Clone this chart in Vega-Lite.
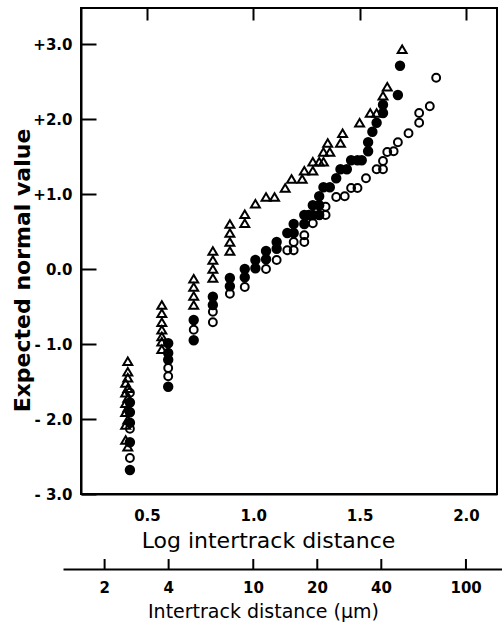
{
  "$schema": "https://vega.github.io/schema/vega-lite/v6.json",
  "width": 416,
  "height": 486,
  "autosize": {"type": "none"},
  "padding": {"left": 81, "top": 8, "right": 5, "bottom": 128},
  "background": "white",
  "config": {
    "view": {"stroke": "black", "strokeWidth": 2},
    "axis": {"grid": false, "zindex": 1, "domainColor": "black", "domainWidth": 2, "labelColor": "black", "titleColor": "black"}
  },
  "datasets": {
    "pts": [
      {"s": "tri", "x": 0.41, "y": -1.23}, {"s": "tri", "x": 0.41, "y": -1.37}, {"s": "tri", "x": 0.41, "y": -1.45}, {"s": "tri", "x": 0.40, "y": -1.52},
      {"s": "tri", "x": 0.41, "y": -1.59}, {"s": "tri", "x": 0.40, "y": -1.65}, {"s": "tri", "x": 0.41, "y": -1.72}, {"s": "tri", "x": 0.40, "y": -1.79},
      {"s": "tri", "x": 0.41, "y": -1.85}, {"s": "tri", "x": 0.40, "y": -1.91}, {"s": "tri", "x": 0.41, "y": -2.01}, {"s": "tri", "x": 0.40, "y": -2.08},
      {"s": "tri", "x": 0.40, "y": -2.28}, {"s": "tri", "x": 0.41, "y": -2.37},
      {"s": "tri", "x": 0.57, "y": -0.48}, {"s": "tri", "x": 0.57, "y": -0.59}, {"s": "tri", "x": 0.57, "y": -0.71}, {"s": "tri", "x": 0.57, "y": -0.81},
      {"s": "tri", "x": 0.57, "y": -0.90}, {"s": "tri", "x": 0.57, "y": -0.97}, {"s": "tri", "x": 0.57, "y": -1.07},
      {"s": "tri", "x": 0.72, "y": -0.13}, {"s": "tri", "x": 0.72, "y": -0.24}, {"s": "tri", "x": 0.72, "y": -0.36}, {"s": "tri", "x": 0.72, "y": -0.48},
      {"s": "tri", "x": 0.81, "y": 0.24}, {"s": "tri", "x": 0.81, "y": 0.12}, {"s": "tri", "x": 0.81, "y": 0.0}, {"s": "tri", "x": 0.81, "y": -0.12},
      {"s": "tri", "x": 0.89, "y": 0.60}, {"s": "tri", "x": 0.89, "y": 0.48}, {"s": "tri", "x": 0.89, "y": 0.36}, {"s": "tri", "x": 0.89, "y": 0.24},
      {"s": "tri", "x": 0.96, "y": 0.73}, {"s": "tri", "x": 0.96, "y": 0.61},
      {"s": "tri", "x": 1.01, "y": 0.87}, {"s": "tri", "x": 1.06, "y": 0.96}, {"s": "tri", "x": 1.10, "y": 0.96},
      {"s": "tri", "x": 1.15, "y": 1.08}, {"s": "tri", "x": 1.18, "y": 1.20}, {"s": "tri", "x": 1.23, "y": 1.20}, {"s": "tri", "x": 1.24, "y": 1.31},
      {"s": "tri", "x": 1.28, "y": 1.31}, {"s": "tri", "x": 1.28, "y": 1.43}, {"s": "tri", "x": 1.31, "y": 1.43}, {"s": "tri", "x": 1.33, "y": 1.43},
      {"s": "tri", "x": 1.33, "y": 1.56}, {"s": "tri", "x": 1.36, "y": 1.56}, {"s": "tri", "x": 1.35, "y": 1.68}, {"s": "tri", "x": 1.41, "y": 1.68},
      {"s": "tri", "x": 1.42, "y": 1.81}, {"s": "tri", "x": 1.50, "y": 1.95}, {"s": "tri", "x": 1.55, "y": 2.08}, {"s": "tri", "x": 1.58, "y": 2.08},
      {"s": "tri", "x": 1.61, "y": 2.31}, {"s": "tri", "x": 1.63, "y": 2.43}, {"s": "tri", "x": 1.70, "y": 2.93},
      {"s": "dot", "x": 0.42, "y": -1.78}, {"s": "dot", "x": 0.42, "y": -1.91}, {"s": "dot", "x": 0.42, "y": -2.05}, {"s": "dot", "x": 0.42, "y": -2.31}, {"s": "dot", "x": 0.42, "y": -2.68},
      {"s": "dot", "x": 0.60, "y": -0.99}, {"s": "dot", "x": 0.60, "y": -1.12}, {"s": "dot", "x": 0.60, "y": -1.21}, {"s": "dot", "x": 0.60, "y": -1.57},
      {"s": "dot", "x": 0.72, "y": -0.68}, {"s": "dot", "x": 0.72, "y": -0.95},
      {"s": "dot", "x": 0.81, "y": -0.37}, {"s": "dot", "x": 0.81, "y": -0.48},
      {"s": "dot", "x": 0.89, "y": -0.12}, {"s": "dot", "x": 0.89, "y": -0.23},
      {"s": "dot", "x": 0.96, "y": 0.0}, {"s": "dot", "x": 0.96, "y": -0.11},
      {"s": "dot", "x": 1.01, "y": 0.12}, {"s": "dot", "x": 1.01, "y": 0.01},
      {"s": "dot", "x": 1.06, "y": 0.24}, {"s": "dot", "x": 1.06, "y": 0.13},
      {"s": "dot", "x": 1.11, "y": 0.36}, {"s": "dot", "x": 1.11, "y": 0.27},
      {"s": "dot", "x": 1.16, "y": 0.48}, {"s": "dot", "x": 1.19, "y": 0.48}, {"s": "dot", "x": 1.19, "y": 0.60},
      {"s": "dot", "x": 1.24, "y": 0.60}, {"s": "dot", "x": 1.24, "y": 0.72}, {"s": "dot", "x": 1.26, "y": 0.72},
      {"s": "dot", "x": 1.28, "y": 0.72}, {"s": "dot", "x": 1.28, "y": 0.85}, {"s": "dot", "x": 1.31, "y": 0.72}, {"s": "dot", "x": 1.31, "y": 0.85},
      {"s": "dot", "x": 1.31, "y": 0.97}, {"s": "dot", "x": 1.33, "y": 1.09}, {"s": "dot", "x": 1.36, "y": 1.09}, {"s": "dot", "x": 1.39, "y": 1.21},
      {"s": "dot", "x": 1.41, "y": 1.33}, {"s": "dot", "x": 1.44, "y": 1.33}, {"s": "dot", "x": 1.46, "y": 1.45}, {"s": "dot", "x": 1.49, "y": 1.45},
      {"s": "dot", "x": 1.51, "y": 1.45}, {"s": "dot", "x": 1.54, "y": 1.57}, {"s": "dot", "x": 1.54, "y": 1.69}, {"s": "dot", "x": 1.56, "y": 1.83},
      {"s": "dot", "x": 1.58, "y": 1.95}, {"s": "dot", "x": 1.61, "y": 2.08}, {"s": "dot", "x": 1.61, "y": 2.19}, {"s": "dot", "x": 1.68, "y": 2.32},
      {"s": "dot", "x": 1.69, "y": 2.71},
      {"s": "ring", "x": 0.42, "y": -1.65}, {"s": "ring", "x": 0.42, "y": -2.13}, {"s": "ring", "x": 0.42, "y": -2.52},
      {"s": "ring", "x": 0.60, "y": -1.32}, {"s": "ring", "x": 0.60, "y": -1.43},
      {"s": "ring", "x": 0.72, "y": -0.81},
      {"s": "ring", "x": 0.81, "y": -0.57}, {"s": "ring", "x": 0.81, "y": -0.71},
      {"s": "ring", "x": 0.89, "y": -0.33}, {"s": "ring", "x": 0.96, "y": -0.24}, {"s": "ring", "x": 1.06, "y": 0.0}, {"s": "ring", "x": 1.11, "y": 0.12},
      {"s": "ring", "x": 1.16, "y": 0.25}, {"s": "ring", "x": 1.19, "y": 0.25}, {"s": "ring", "x": 1.19, "y": 0.36},
      {"s": "ring", "x": 1.24, "y": 0.36}, {"s": "ring", "x": 1.24, "y": 0.45}, {"s": "ring", "x": 1.28, "y": 0.61}, {"s": "ring", "x": 1.31, "y": 0.72},
      {"s": "ring", "x": 1.34, "y": 0.72}, {"s": "ring", "x": 1.34, "y": 0.83}, {"s": "ring", "x": 1.39, "y": 0.96}, {"s": "ring", "x": 1.43, "y": 0.97},
      {"s": "ring", "x": 1.46, "y": 1.08}, {"s": "ring", "x": 1.49, "y": 1.08}, {"s": "ring", "x": 1.53, "y": 1.21}, {"s": "ring", "x": 1.58, "y": 1.33},
      {"s": "ring", "x": 1.61, "y": 1.33}, {"s": "ring", "x": 1.61, "y": 1.44}, {"s": "ring", "x": 1.63, "y": 1.56}, {"s": "ring", "x": 1.66, "y": 1.57},
      {"s": "ring", "x": 1.68, "y": 1.69}, {"s": "ring", "x": 1.73, "y": 1.81}, {"s": "ring", "x": 1.78, "y": 1.95}, {"s": "ring", "x": 1.78, "y": 2.08},
      {"s": "ring", "x": 1.83, "y": 2.17}, {"s": "ring", "x": 1.86, "y": 2.55}
    ],
    "um": [{"um": 2, "lg": 0.301}, {"um": 4, "lg": 0.602}, {"um": 10, "lg": 1.0}, {"um": 20, "lg": 1.301}, {"um": 40, "lg": 1.602}, {"um": 100, "lg": 2.0}]
  },
  "layer": [
    {
      "data": {"name": "um"},
      "mark": {"type": "rule", "stroke": "black", "strokeWidth": 2},
      "encoding": {
        "x": {"field": "lg", "type": "quantitative", "scale": {"domain": [0.19, 2.146], "nice": false, "zero": false}, "axis": null},
        "y": {"datum": -4.0, "type": "quantitative", "scale": {"domain": [-3, 3.48], "nice": false, "zero": false}, "axis": null},
        "y2": {"datum": -3.867}
      }
    },
    {
      "data": {"name": "pts"},
      "mark": {"type": "point", "filled": true, "stroke": "black", "strokeWidth": 2, "opacity": 1},
      "encoding": {
        "x": {
          "field": "x", "type": "quantitative",
          "scale": {"domain": [0.19, 2.146], "nice": false, "zero": false},
          "axis": {
            "orient": "bottom", "values": [0.5, 1, 1.5, 2], "format": ".1f",
            "ticks": false, "labelPadding": 14,
            "grid": true, "gridColor": "black", "gridWidth": 2, "gridOpacity": 1, "gridDash": [12, 2000],
            "labelFont": "DejaVu Sans", "labelFontSize": 15, "labelFontWeight": "bold",
            "title": "Log intertrack distance", "titleFont": "DejaVu Sans", "titleFontSize": 22, "titleFontWeight": "normal",
            "titleX": 187, "titleY": 46, "titleBaseline": "middle", "titleAnchor": "middle", "titleAlign": "center"
          }
        },
        "y": {
          "field": "y", "type": "quantitative",
          "scale": {"domain": [-3, 3.48], "nice": false, "zero": false},
          "axis": {
            "orient": "left",
            "values": [-3, -2, -1, 0, 1, 2, 3],
            "labelExpr": "datum.value > 0 ? '+' + format(datum.value, '.1f') : (datum.value < 0 ? '- ' + format(-datum.value, '.1f') : '0.0')",
            "ticks": false, "labelPadding": 9,
            "grid": true, "gridColor": "black", "gridWidth": 2, "gridOpacity": 1, "gridDash": [15, 2000],
            "labelFont": "DejaVu Sans", "labelFontSize": 15, "labelFontWeight": "bold",
            "title": "Expected normal value", "titleFont": "DejaVu Sans", "titleFontSize": 22, "titleFontWeight": "bold",
            "titleX": -59, "titleY": 262, "titleAngle": -90, "titleBaseline": "middle", "titleAlign": "center"
          }
        },
        "shape": {"field": "s", "type": "nominal", "scale": {"domain": ["tri", "dot", "ring"], "range": ["triangle-up", "circle", "circle"]}, "legend": null},
        "fill": {"field": "s", "type": "nominal", "scale": {"domain": ["tri", "dot", "ring"], "range": ["transparent", "black", "transparent"]}, "legend": null},
        "size": {"field": "s", "type": "nominal", "scale": {"domain": ["tri", "dot", "ring"], "range": [80, 62, 50]}, "legend": null}
      }
    },
    {
      "data": {"name": "um"},
      "mark": {"type": "point", "opacity": 0},
      "encoding": {
        "x": {
          "field": "um", "type": "quantitative",
          "scale": {"type": "log", "domain": [1.28, 148.3], "range": [-18, 421], "nice": false},
          "axis": {
            "orient": "bottom", "offset": 75, "values": [2, 4, 10, 20, 40, 100], "format": "d",
            "ticks": false, "labelPadding": 11,
            "labelFont": "DejaVu Sans", "labelFontSize": 15, "labelFontWeight": "bold",
            "title": "Intertrack distance (μm)", "titleFont": "DejaVu Sans", "titleFontSize": 19, "titleFontWeight": "normal",
            "titleX": 182, "titleY": 42, "titleBaseline": "middle", "titleAlign": "center"
          }
        }
      }
    }
  ],
  "resolve": {"scale": {"x": "independent", "y": "independent"}, "axis": {"x": "independent", "y": "independent"}}
}
